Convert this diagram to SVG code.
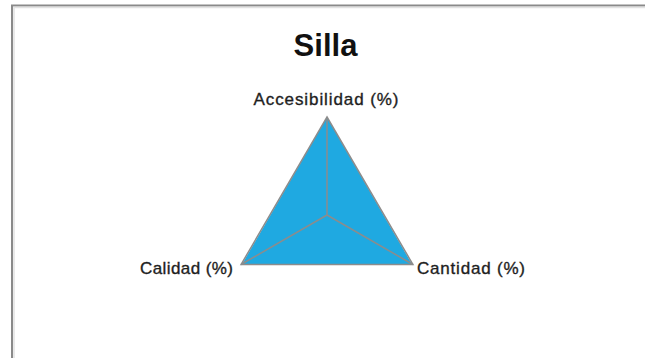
<svg xmlns="http://www.w3.org/2000/svg" width="645" height="358" viewBox="0 0 645 358">
  <style>
    .lbl { font-family: "Liberation Sans", Arial, sans-serif; font-size: 17px; fill: #1e1e1e; stroke: #1e1e1e; stroke-width: 0.35; }
    .title { font-family: "Liberation Sans", Arial, sans-serif; font-size: 31px; font-weight: bold; fill: #111; }
    .grid { fill: none; stroke: #8c8c8c; stroke-width: 1.5; }
  </style>
  <rect x="0" y="0" width="645" height="358" fill="#ffffff"/>
  <path d="M12 358 V5.5 H645" fill="none" stroke="#8a8a8a" stroke-width="2"/>
  <path d="M14 358 V7.5 H645" fill="none" stroke="#e2e2e2" stroke-width="1.5"/>
  <g id="title"><text class="title" x="325.5" y="56" text-anchor="middle" textLength="64">Silla</text></g>
  <g id="data">
    <polygon points="327,117 411.9,264 242.1,264" fill="#1fa9e1"/>
  </g>
  <g id="connectors">
    <polygon class="grid" points="327,117 412.9,264.5 241.1,264.5"/>
    <line class="grid" x1="327" y1="215" x2="327" y2="117"/>
    <line class="grid" x1="327" y1="215" x2="412.9" y2="264.5"/>
    <line class="grid" x1="327" y1="215" x2="241.1" y2="264.5"/>
  </g>
  <g id="node-accesibilidad"><text class="lbl" x="326" y="105" text-anchor="middle" textLength="145">Accesibilidad (%)</text></g>
  <g id="node-calidad"><text class="lbl" x="140" y="274" textLength="93">Calidad (%)</text></g>
  <g id="node-cantidad"><text class="lbl" x="417" y="274" textLength="108">Cantidad (%)</text></g>
</svg>
